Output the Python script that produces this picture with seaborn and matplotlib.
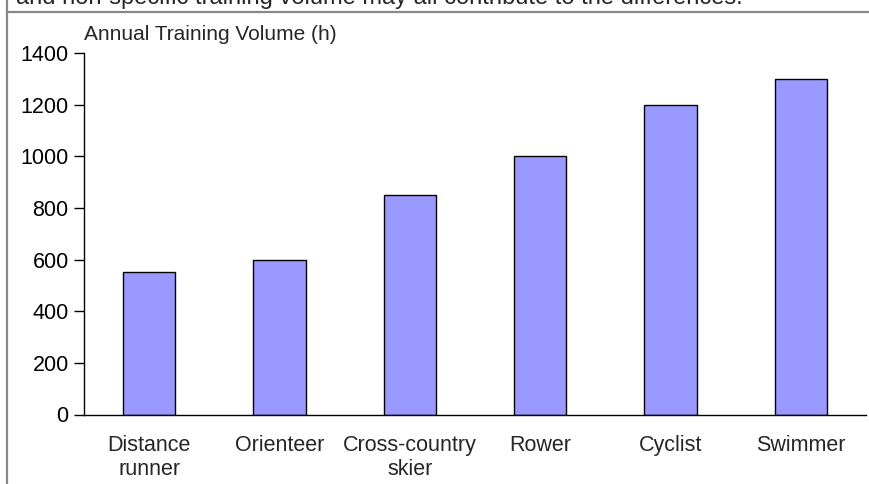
import pandas as pd
import matplotlib
matplotlib.use("Agg")
import matplotlib.pyplot as plt
import seaborn as sns
from matplotlib.lines import Line2D

# Data
athletes = ["Distance\nrunner", "Orienteer", "Cross-country\nskier", "Rower", "Cyclist", "Swimmer"]
hours = [550, 600, 850, 1000, 1200, 1300]
y_ticks = [0, 200, 400, 600, 800, 1000, 1200, 1400]

sns.set_style("ticks")
plt.rcParams["font.family"] = ["Liberation Sans", "DejaVu Sans"]
plt.rcParams["font.size"] = 15

df = pd.DataFrame({"athlete": athletes, "hours": hours})

fig = plt.figure(figsize=(8.69, 4.84), dpi=100)
ax = fig.add_axes([84 / 869, 1 - 414.5 / 484, (866 - 84) / 869, (414.5 - 53) / 484])

sns.barplot(data=df, x="athlete", y="hours", ax=ax, color="#9999FF",
            saturation=1, width=0.4, edgecolor="black", linewidth=1)

ax.set_xlim(-0.5, 5.5)
ax.set_ylim(0, 1400)
ax.set_yticks(y_ticks)
ax.set_xlabel("")
ax.set_ylabel("")
ax.tick_params(axis="y", length=7, width=1, pad=4, labelsize=15.5, colors="black")
ax.tick_params(axis="x", length=0, pad=15, labelsize=15.5)
for lbl in ax.get_xticklabels():
    lbl.set_linespacing(1.15)

sns.despine(ax=ax)
for side in ["left", "bottom"]:
    ax.spines[side].set_color("black")
    ax.spines[side].set_linewidth(1)

# label sitting above the y axis
fig.text(84 / 869, 1 - 40 / 484, "Annual Training Volume (h)", fontsize=15,
         ha="left", va="baseline")

# tail of the caption from above, mostly cut off by the frame
fig.text(16 / 869, 1 - 4 / 484,
         "and non-specific training volume may all contribute to the differences.",
         fontsize=17, ha="left", va="baseline")

# grey frame lines
fig.add_artist(Line2D([7 / 869, 7 / 869], [0, 1], color="#888888", lw=1.6))
fig.add_artist(Line2D([7 / 869, 1], [1 - 11.5 / 484, 1 - 11.5 / 484], color="#888888", lw=1.6))

fig.savefig("out.png", dpi=100)
